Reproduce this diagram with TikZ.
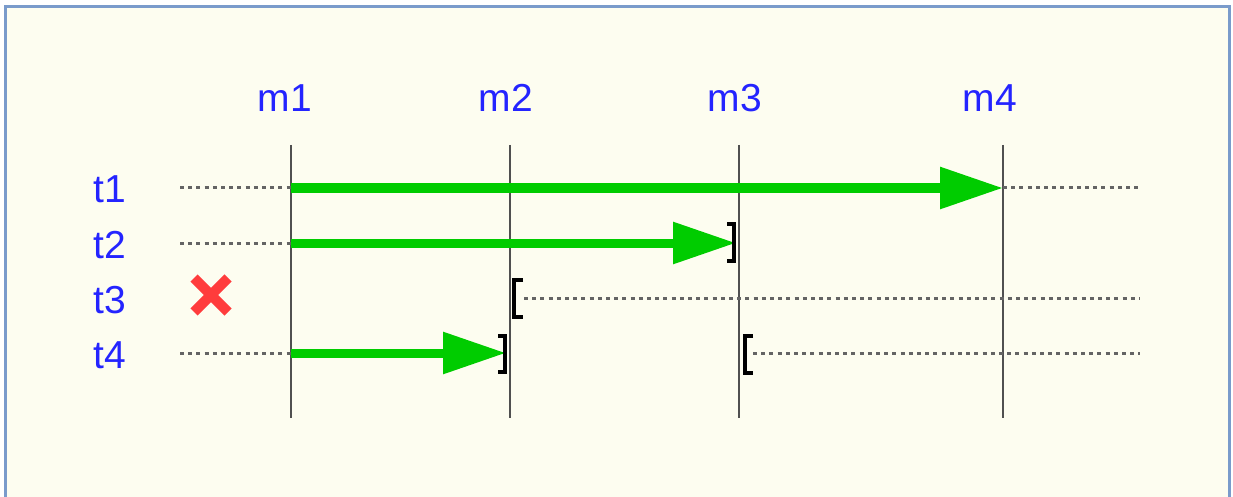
\documentclass[tikz,border=0pt]{standalone}
\usepackage{fontspec}
\setmainfont{Liberation Sans}
\usetikzlibrary{arrows.meta}
\definecolor{bgc}{RGB}{253,253,240}
\definecolor{framec}{RGB}{122,155,203}
\definecolor{lblc}{RGB}{36,36,255}
\definecolor{grn}{RGB}{0,204,0}
\definecolor{xred}{RGB}{255,60,60}
\definecolor{vline}{RGB}{80,80,80}
\definecolor{dotc}{RGB}{100,100,100}
\tikzset{
  lbl/.style={text=lblc, font=\fontsize{39}{45}\selectfont, inner sep=0pt, anchor=base},
  mline/.style={draw=vline, line width=2.2pt},
  dotline/.style={draw=dotc, line width=3pt, dash pattern=on 4pt off 4.2pt},
  garrow/.style={draw=grn, line width=9pt, -{Triangle[length=63pt,width=40pt,fill=grn]}},
  brk/.style={draw=black, line width=3.8pt},
  xmark/.style={draw=xred, line width=10pt}
}
\begin{document}
\begin{tikzpicture}[x=1pt,y=-1pt]
\useasboundingbox (0,0) rectangle (1233,497);
\fill[white] (0,0) rectangle (1233,497);
\fill[bgc] (5,7) rectangle (1229,500);
\draw[framec, line width=3pt] (5,500) -- (5,7) -- (1229,7) -- (1229,500);

% column labels
\node[lbl] (m1) at (285,112) {m1};
\node[lbl] (m2) at (506,112) {m2};
\node[lbl] (m3) at (735,112) {m3};
\node[lbl] (m4) at (990,112) {m4};
% row labels
\node[lbl] (t1) at (110,203) {t1};
\node[lbl] (t2) at (110,258) {t2};
\node[lbl] (t3) at (110,313) {t3};
\node[lbl] (t4) at (110,368) {t4};

% vertical lines
\foreach \n/\x in {a/291,b/510,c/739,d/1003}{
  \coordinate (\n top) at (\x,145);
  \coordinate (\n bot) at (\x,418);
}
\draw[mline] (atop) -- (abot);
\draw[mline] (btop) -- (bbot);
\draw[mline] (ctop) -- (cbot);
\draw[mline] (dtop) -- (dbot);

% row coordinates
\coordinate (r1s) at (180,188); \coordinate (r1a) at (291,188);
\coordinate (r1d) at (1003,188); \coordinate (r1e) at (1140,188);
\coordinate (r2s) at (180,243); \coordinate (r2a) at (291,243);
\coordinate (r2c) at (736,243);
\coordinate (r3b) at (524,298); \coordinate (r3e) at (1140,298);
\coordinate (r4s) at (180,353); \coordinate (r4a) at (291,353);
\coordinate (r4b) at (506,353);
\coordinate (r4c) at (753,353); \coordinate (r4e) at (1140,353);

% dotted lines
\draw[dotline] (r1s) -- (r1a);
\draw[dotline] (r1d) -- (r1e);
\draw[dotline] (r2s) -- (r2a);
\draw[dotline] (r3b) -- (r3e);
\draw[dotline] (r4s) -- (r4a);
\draw[dotline] (r4c) -- (r4e);

% green arrows
\draw[garrow] (r1a) -- (r1d);
\draw[garrow] (r2a) -- (r2c);
\draw[garrow] (r4a) -- (r4b);

% brackets
\draw[brk] (727,224) -- (734,224) -- (734,261) -- (727,261);
\draw[brk] (523,280) -- (514,280) -- (514,317) -- (523,317);
\draw[brk] (498,336) -- (505,336) -- (505,372) -- (498,372);
\draw[brk] (753,336) -- (745,336) -- (745,373) -- (753,373);

% red cross
\draw[xmark] (194,278) -- (228,312);
\draw[xmark] (228,278) -- (194,312);
\end{tikzpicture}
\end{document}
